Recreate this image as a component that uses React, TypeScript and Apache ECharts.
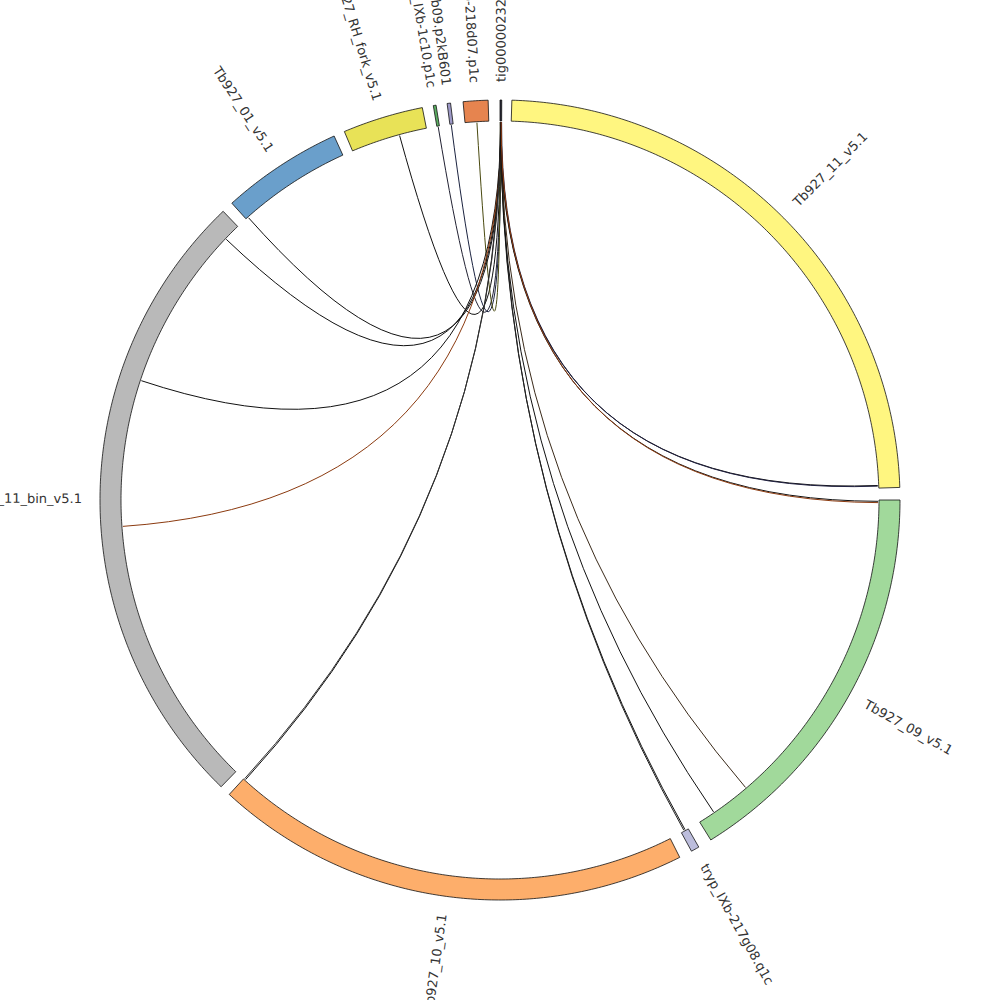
import React, { useEffect, useRef } from 'react';
import * as echarts from 'echarts';

// Segments (angles in degrees, clockwise from top)
const segmentNames = [
  'tig00000232',
  'Tb927_11_v5.1',
  'Tb927_09_v5.1',
  'tryp_IXb-217g08.q1c',
  'Tb927_10_v5.1',
  'Tb927_11_bin_v5.1',
  'Tb927_01_v5.1',
  'Tb927_RH_fork_v5.1',
  'tryp_IXb-1c10.p1c',
  'tryp_IXb09.p2kB601',
  'tryp_IXb-218d07.p1c',
];
const segmentStart = [0.0, 1.7, 90.0, 150.2, 153.3, 224.2, 317.9, 337.1, 350.4, 352.4, 354.7];
const segmentEnd = [0.25, 88.2, 148.2, 151.4, 222.6, 316.2, 335.5, 348.8, 350.8, 352.9, 358.3];
const segmentColors = [
  '#2a2a3a',
  '#fff680',
  '#a1d99b',
  '#bcbddc',
  '#fdae6b',
  '#b9b9b9',
  '#6a9fcb',
  '#e8e257',
  '#5aae61',
  '#9e9ac8',
  '#e6844f',
];

// Links (angles in degrees)
const linkFrom = [0.1, 0.15, 0.2, 0.05, 0.12, 0.18, 0.1, 0.22, 0.08, 0.16, 0.12, 0.2, 0.06, 0.14, 0.1, 0.24, 0.05, 0.18];
const linkTo = [344.6, 350.6, 352.6, 356.5, 313.6, 318.3, 288.4, 266.0, 222.3, 222.5, 150.7, 150.9, 145.6, 139.5, 87.8, 87.9, 90.2, 90.4];
const linkColors = [
  '#111111', '#222233', '#1b2340', '#4a4a10', '#111111', '#111111', '#111111', '#8b3a0f', '#111111',
  '#333333', '#111111', '#222222', '#111111', '#3a2a1a', '#111111', '#202040', '#111111', '#8b3a0f',
];

const R_OUTER = 400;
const R_INNER = 379;
const R_LINK = 378;
const R_LABEL = 418;

export default function App() {
  const ref = useRef<HTMLDivElement>(null);
  useEffect(() => {
    const chart = echarts.init(ref.current as HTMLDivElement, null, { renderer: 'svg' });
    const segData = segmentNames.map((_, i) => [segmentStart[i], segmentEnd[i], i]);
    const linkData = linkFrom.map((a, i) => [a, linkTo[i], i]);

    const renderLink = (params: any, api: any) => {
      const a1 = api.value(0);
      const a2 = api.value(1);
      const i = api.value(2);
      const p1 = api.coord([R_LINK, a1]);
      const p2 = api.coord([R_LINK, a2]);
      const c = api.coord([0, a1]);
      return {
        type: 'bezierCurve',
        shape: { x1: p1[0], y1: p1[1], x2: p2[0], y2: p2[1], cpx1: c[0], cpy1: c[1] },
        style: { stroke: linkColors[i], fill: null, lineWidth: 1 },
      };
    };

    const renderSegment = (params: any, api: any) => {
      const s = api.value(0);
      const e = api.value(1);
      const i = api.value(2);
      const n = Math.max(2, Math.ceil((e - s) / 0.5));
      const pts: number[][] = [];
      for (let k = 0; k <= n; k++) pts.push(api.coord([R_OUTER, s + ((e - s) * k) / n]));
      for (let k = n; k >= 0; k--) pts.push(api.coord([R_INNER, s + ((e - s) * k) / n]));
      const mid = (s + e) / 2;
      const p = api.coord([R_LABEL, mid]);
      const cx = params.coordSys.cx;
      const cy = params.coordSys.cy;
      const dx = p[0] - cx;
      const dy = p[1] - cy;
      const right = mid > 0 && mid < 180;
      const rot = right ? Math.atan2(-dy, dx) : Math.atan2(dy, -dx);
      return {
        type: 'group',
        children: [
          {
            type: 'polygon',
            shape: { points: pts },
            style: { fill: segmentColors[i], stroke: '#111', lineWidth: 0.8 },
          },
          {
            type: 'text',
            x: p[0],
            y: p[1],
            rotation: rot,
            style: {
              text: segmentNames[i],
              fill: '#333',
              fontSize: 13,
              fontFamily: 'DejaVu Sans',
              align: right ? 'left' : 'right',
              verticalAlign: 'middle',
            },
          },
        ],
      };
    };

    chart.setOption({
      animation: false,
      backgroundColor: '#ffffff',
      polar: { center: [500, 500], radius: [0, 400] },
      angleAxis: { type: 'value', min: 0, max: 360, startAngle: 90, clockwise: true, show: false },
      radiusAxis: { type: 'value', min: 0, max: 400, show: false },
      series: [
        { type: 'custom', coordinateSystem: 'polar', data: linkData, renderItem: renderLink, silent: true },
        { type: 'custom', coordinateSystem: 'polar', data: segData, renderItem: renderSegment, silent: true },
      ],
    });
    return () => chart.dispose();
  }, []);
  return <div ref={ref} style={{ position: 'absolute', left: 0, top: 0, width: 1000, height: 1000 }} />;
}
